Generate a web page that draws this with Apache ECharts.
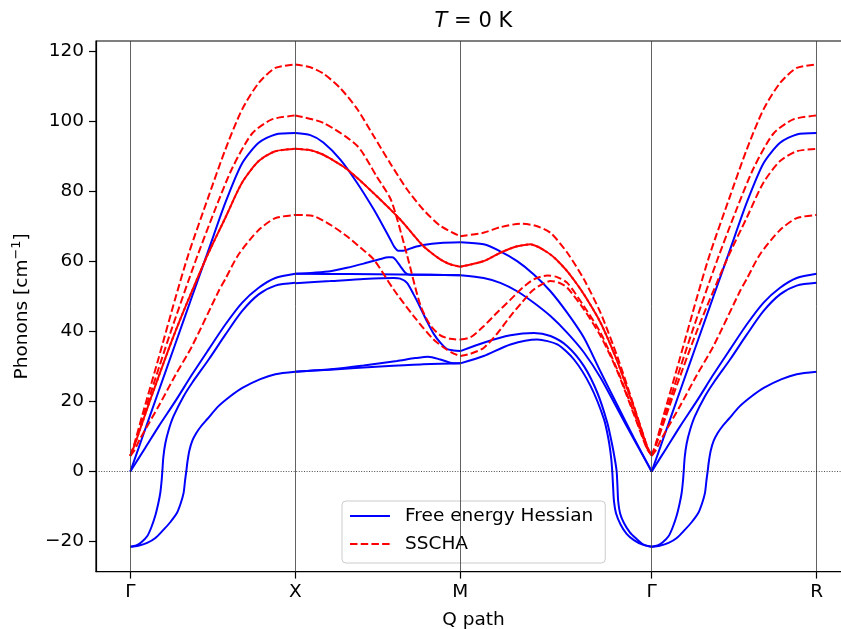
<!DOCTYPE html>
<html>
<head>
<meta charset="utf-8">
<title>Phonon dispersion</title>
<script src="https://cdn.jsdelivr.net/npm/echarts@6/dist/echarts.min.js"></script>
<style>
  html, body { margin: 0; padding: 0; background: #ffffff; }
  #chart { width: 841px; height: 629px; }
</style>
</head>
<body>
<div id="chart"></div>
<script>
// High-symmetry points along the Q path and their labels
const TICK_Q = [0, 1, 2, 3.16, 4.16];
const TICK_LABELS = ['Γ', 'X', 'M', 'Γ', 'R'];
const Y_TICKS = [-20, 0, 20, 40, 60, 80, 100, 120];

// Each segment array holds [fraction along segment, frequency in cm^-1]

// --- Free energy Hessian, Γ → X
const blueGX_1 = [[0,0],[.071,9.5],[.172,23],[.273,36.5],[.374,50],[.475,63.4],[.576,76.8],[.677,88],[.778,93.9],[.879,96.3],[1,96.7]];
const blueGX_2 = [[0,0],[.091,6.8],[.172,12.9],[.273,20.1],[.374,27.7],[.475,34.9],[.576,42],[.677,48.2],[.778,52.5],[.879,55.3],[1,56.5]];
const blueGX_4 = [[0,-21.5],[.036,-21.1],[.067,-20.2],[.102,-18.5],[.127,-16],[.152,-12.5],[.170,-9],[.182,-6],[.190,-2.5],[.194,0],[.200,4],[.212,8],[.232,11.8],[.262,15.8],[.323,21.5],[.374,25.3],[.475,32],[.576,39.1],[.677,45.8],[.778,50.6],[.879,53.1],[1,53.9]];
const blueGX_5 = [[0,-21.5],[.048,-21.2],[.102,-20.4],[.152,-19],[.202,-16.6],[.242,-14.5],[.283,-11.8],[.306,-9],[.323,-6.1],[.332,-2.5],[.339,0],[.347,3],[.358,6],[.376,8.8],[.400,11],[.430,13],[.467,15],[.533,18.6],[.606,21.5],[.679,23.9],[.788,26.4],[.879,27.8],[1,28.5]];

// --- Free energy Hessian, X → M
const blueXM_1 = [[0,96.7],[.091,96.1],[.170,94],[.273,89.1],[.374,82.5],[.475,74.9],[.545,69],[.576,66.3],[.600,64.2],[.624,63.1],[.655,63.1],[.715,64],[.776,64.7],[.879,65.3],[1,65.5]];
const blueXM_2 = [[0,56.5],[.111,56.8],[.212,57.2],[.313,58.2],[.414,59.4],[.515,60.7],[.564,61.2],[.588,61.2],[.606,60.6],[.636,58.7],[.667,56.8],[.697,56.2],[.818,56.2],[1,56.1]];
const blueXM_3 = [[0,56.5],[.333,56.4],[.636,56.3],[1,56.1]];
const blueXM_4 = [[0,53.8],[.212,54.4],[.414,55],[.596,55.3],[.636,55.1],[.677,53.9],[.717,50.6],[.758,46.8],[.798,42.9],[.838,39.4],[.879,36.8],[.919,35],[.960,34.6],[1,34.4]];
const blueXM_5 = [[0,28.5],[.212,29.2],[.414,30.3],[.616,31.6],[.727,32.4],[.806,32.8],[.879,32],[.939,31.1],[1,30.9]];
const blueXM_6 = [[0,28.5],[.212,29.1],[.515,30],[.758,30.6],[1,30.9]];

// --- Free energy Hessian, M → Γ
const blueMG_1 = [[0,65.5],[.122,64.9],[.209,62.9],[.297,60.1],[.384,56.3],[.471,51.5],[.559,45.3],[.646,38.2],[.733,28.5],[.820,19],[.907,9.6],[1,0]];
const blueMG_2 = [[0,56.1],[.122,55.3],[.209,53.9],[.297,51.5],[.384,48.2],[.471,44.4],[.559,39.6],[.646,34],[.733,26.8],[.820,18],[.907,9.2],[1,0]];
const blueMG_4 = [[0,34.4],[.122,36.8],[.262,38.9],[.384,39.6],[.471,38.7],[.559,35.8],[.646,30.1],[.716,22.5],[.768,13.9],[.794,7.5],[.809,3],[.817,0],[.821,-4],[.825,-8.5],[.835,-12],[.855,-14.7],[.885,-17.3],[.916,-19],[.958,-20.9],[1,-21.5]];
const blueMG_5 = [[0,30.9],[.122,33],[.262,36.3],[.402,37.7],[.507,36.3],[.594,32],[.681,24.4],[.751,14.9],[.775,9],[.788,4],[.794,0],[.798,-4],[.803,-8.5],[.814,-12],[.838,-15.2],[.869,-17.8],[.907,-19.6],[.953,-20.9],[1,-21.5]];

// --- Free energy Hessian, Γ → R
const blueGR_1 = [[0,0],[.071,9.5],[.172,23],[.273,36.5],[.374,50],[.475,63.4],[.576,76.8],[.677,88],[.778,93.9],[.879,96.3],[1,96.7]];
const blueGR_2 = [[0,0],[.091,6.8],[.172,12.9],[.273,20.1],[.374,27.7],[.475,34.9],[.576,42],[.677,48.2],[.778,52.5],[.879,55.3],[1,56.5]];
const blueGR_4 = [[0,-21.5],[.036,-21.1],[.067,-20.2],[.102,-18.5],[.127,-16],[.152,-12.5],[.170,-9],[.182,-6],[.190,-2.5],[.194,0],[.200,4],[.212,8],[.232,11.8],[.262,15.8],[.323,21.5],[.374,25.3],[.475,32],[.576,39.1],[.677,45.8],[.778,50.6],[.879,53.1],[1,53.9]];
const blueGR_5 = [[0,-21.5],[.048,-21.2],[.102,-20.4],[.152,-19],[.202,-16.6],[.242,-14.5],[.283,-11.8],[.306,-9],[.323,-6.1],[.332,-2.5],[.339,0],[.347,3],[.358,6],[.376,8.8],[.400,11],[.430,13],[.467,15],[.533,18.6],[.606,21.5],[.679,23.9],[.788,26.4],[.879,27.8],[1,28.5]];

// --- SSCHA, Γ → X
const redGX_1 = [[0,4.5],[.024,7.8],[.071,15.8],[.172,32.5],[.273,49.5],[.352,62],[.475,78.7],[.576,92],[.677,103.4],[.778,111],[.879,115.3],[1,116.3]];
const redGX_2 = [[0,4.5],[.024,7.5],[.121,22],[.242,39.5],[.394,60],[.515,75],[.616,86.5],[.737,96.5],[.858,100.6],[1,101.7]];
const redGX_3 = [[0,4.5],[.024,7.3],[.121,20.5],[.273,40],[.455,60.5],[.576,72.5],[.677,82.5],[.778,88.7],[.879,91.5],[1,92.2]];
const redGX_4 = [[0,4.5],[.024,6],[.061,9.5],[.172,18.7],[.273,27.5],[.374,35.8],[.535,51.5],[.576,55],[.656,62],[.778,69],[.879,72.4],[1,73.3]];

// --- SSCHA, X → M
const redXM_1 = [[0,116.3],[.091,115.5],[.170,113.7],[.273,109.5],[.376,103.5],[.473,96],[.576,88],[.679,80.5],[.776,74.8],[.879,70.2],[1,67.2]];
const redXM_2 = [[0,101.7],[.170,99.6],[.376,93],[.497,84],[.576,78],[.618,72],[.679,61.5],[.758,47.5],[.818,41.8],[.879,38.9],[.939,37.9],[1,37.7]];
const redXM_3 = [[0,92.2],[.091,91.8],[.170,90.5],[.315,86.3],[.473,79.6],[.636,72],[.776,64.4],[.879,60.6],[.939,59.2],[1,58.5]];
const redXM_4 = [[0,73.3],[.109,73],[.212,70.5],[.313,67.2],[.394,64],[.475,60.6],[.596,52],[.717,44.4],[.838,37.7],[.919,34.8],[.960,33.7],[1,33]];

// --- SSCHA, M → Γ
const redMG_1 = [[0,67.2],[.120,68.2],[.209,69.8],[.314,70.8],[.393,70.2],[.471,68.2],[.559,62.5],[.646,54.9],[.733,45.3],[.820,32.9],[.907,18.7],[.977,7],[.99,5.3],[1,4.7]];
const redMG_2 = [[0,37.7],[.052,38.3],[.122,41.5],[.194,45.5],[.262,49.1],[.325,52.5],[.384,54.9],[.454,56],[.503,55.6],[.559,53.9],[.646,47.2],[.733,39.6],[.820,29.1],[.907,16.8],[.977,6.5],[1,4.7]];
const redMG_3 = [[0,58.5],[.122,60.1],[.209,62.5],[.288,64.2],[.366,64.9],[.471,62],[.559,57.2],[.646,50.6],[.733,42.5],[.820,31.5],[.907,18.3],[.977,7],[1,4.7]];
const redMG_4 = [[0,33],[.052,33.6],[.122,35.3],[.194,39.5],[.262,44.4],[.325,48.5],[.384,52],[.471,54.4],[.513,54],[.559,52.5],[.646,46.3],[.733,38.7],[.820,28.7],[.907,16.3],[.977,6.3],[1,4.7]];

// --- SSCHA, Γ → R
const redGR_1 = [[0,4.5],[.024,7.8],[.071,15.8],[.172,32.5],[.273,49.5],[.352,62],[.475,78.7],[.576,92],[.677,103.4],[.778,111],[.879,115.3],[1,116.3]];
const redGR_2 = [[0,4.5],[.024,7.5],[.121,22],[.242,39.5],[.394,60],[.515,75],[.616,86.5],[.737,96.5],[.858,100.6],[1,101.7]];
const redGR_3 = [[0,4.5],[.024,7.3],[.121,20.5],[.273,40],[.455,60.5],[.576,72.5],[.677,82.5],[.778,88.7],[.879,91.5],[1,92.2]];
const redGR_4 = [[0,4.5],[.024,6],[.061,9.5],[.172,18.7],[.273,27.5],[.374,35.8],[.535,51.5],[.576,55],[.656,62],[.778,69],[.879,72.4],[1,73.3]];

// Branch pieces per segment: [segment index, data]
const bluePieces = [
  [0, blueGX_1], [0, blueGX_2], [0, blueGX_4], [0, blueGX_5],
  [1, blueXM_1], [1, blueXM_2], [1, blueXM_3], [1, blueXM_4], [1, blueXM_5], [1, blueXM_6],
  [2, blueMG_1], [2, blueMG_2], [2, blueMG_4], [2, blueMG_5],
  [3, blueGR_1], [3, blueGR_2], [3, blueGR_4], [3, blueGR_5]
];
const redPieces = [
  [0, redGX_1], [0, redGX_2], [0, redGX_3], [0, redGX_4],
  [1, redXM_1], [1, redXM_2], [1, redXM_3], [1, redXM_4],
  [2, redMG_1], [2, redMG_2], [2, redMG_3], [2, redMG_4],
  [3, redGR_1], [3, redGR_2], [3, redGR_3], [3, redGR_4]
];
// degenerate partners, drawn with shifted dashes so the pair reads as a solid line
const redPartnerPieces = [[0, redGX_3], [1, redXM_3], [2, redMG_3]];

const FONT = 'DejaVu Sans';
const BLUE = '#0000ff';
const RED = '#ff0000';
const DASH = [7.5, 3.2];
const X_MIN = -0.208, X_MAX = 4.368;
const Y_MIN = -28.6, Y_MAX = 123;

// Map segment fractions onto the cumulative path coordinate
function toPath(seg, pts) {
  const q0 = TICK_Q[seg], len = TICK_Q[seg + 1] - q0;
  return pts.map(p => [q0 + p[0] * len, p[1]]);
}

const minus = v => (v < 0 ? '\u2212' + Math.abs(v) : String(v));

const series = [];
bluePieces.forEach(([seg, pts]) => series.push({
  name: 'Free energy Hessian', type: 'line', data: toPath(seg, pts),
  symbol: 'none', showSymbol: false, smooth: 0.25, z: 2,
  lineStyle: { color: BLUE, width: 2 }, itemStyle: { color: BLUE }
}));
redPieces.forEach(([seg, pts]) => series.push({
  name: 'SSCHA', type: 'line', data: toPath(seg, pts),
  symbol: 'none', showSymbol: false, smooth: 0.25, z: 3,
  lineStyle: { color: RED, width: 2, type: DASH }, itemStyle: { color: RED }
}));
redPartnerPieces.forEach(([seg, pts]) => series.push({
  name: 'SSCHA', type: 'line', data: toPath(seg, pts),
  symbol: 'none', showSymbol: false, smooth: 0.25, z: 3,
  lineStyle: { color: RED, width: 2, type: DASH, dashOffset: 5.3 }, itemStyle: { color: RED }
}));
// reference lines: vertical lines at high-symmetry points and ω = 0
series.push({
  type: 'line', name: 'guides', data: [[0, 0]], symbol: 'none', silent: true, z: 1,
  lineStyle: { opacity: 0 },
  markLine: {
    silent: true, symbol: ['none', 'none'],
    label: { show: false },
    data: TICK_Q.map(q => ({ xAxis: q, lineStyle: { color: '#3a3a3a', width: 0.8, type: 'solid' } }))
      .concat([{ yAxis: 0, lineStyle: { color: '#000', width: 0.7, type: [1, 1.6] } }])
  }
});

const chart = echarts.init(document.getElementById('chart'), null, { renderer: 'canvas' });
chart.setOption({
  animation: false,
  backgroundColor: '#ffffff',
  grid: {
    left: 96, right: -10, top: 41, bottom: 57.4,
    show: true, borderColor: '#000', borderWidth: 1.2,
    containLabel: false, outerBoundsMode: 'none'
  },
  graphic: [{
    type: 'text', x: 473.4, y: 22, silent: true,
    style: {
      text: '{i|T} = 0 K', align: 'center', verticalAlign: 'middle',
      fontFamily: FONT, fontSize: 21, fill: '#000',
      rich: { i: { fontStyle: 'italic', fontFamily: FONT, fontSize: 21 } }
    }
  }],
  legend: {
    data: ['Free energy Hessian', 'SSCHA'],
    orient: 'vertical', left: 342, top: 501,
    itemWidth: 40, itemHeight: 14, itemGap: 6,
    padding: [4, 12, 8, 7],
    backgroundColor: 'rgba(255,255,255,0.8)',
    borderColor: '#cccccc', borderWidth: 1, borderRadius: 4,
    selectedMode: false,
    itemStyle: { opacity: 0 },
    textStyle: { fontFamily: FONT, fontSize: 18.5, color: '#000', lineHeight: 22, padding: [0, 0, 0, 10] }
  },
  xAxis: {
    type: 'value', min: X_MIN, max: X_MAX,
    name: 'Q path', nameLocation: 'middle', nameGap: 39,
    nameTextStyle: { fontFamily: FONT, fontSize: 18.5, color: '#000' },
    axisLine: { show: true, onZero: false, lineStyle: { color: '#000', width: 1.2 } },
    axisTick: { show: true, customValues: TICK_Q, length: 7, lineStyle: { color: '#000', width: 1.2 } },
    axisLabel: {
      customValues: TICK_Q, margin: 11,
      fontFamily: FONT, fontSize: 18.5, color: '#000',
      formatter: v => TICK_LABELS[TICK_Q.findIndex(q => Math.abs(q - v) < 1e-6)] || ''
    },
    splitLine: { show: false }
  },
  yAxis: {
    type: 'value', min: Y_MIN, max: Y_MAX,
    name: 'Phonons [cm{sup|\u22121}]', nameLocation: 'middle', nameGap: 62, nameRotate: 90,
    nameTextStyle: {
      fontFamily: FONT, fontSize: 18.5, color: '#000', lineHeight: 24,
      rich: { sup: { fontFamily: FONT, fontSize: 13, lineHeight: 13, verticalAlign: 'top' } }
    },
    axisLine: { show: true, onZero: false, lineStyle: { color: '#000', width: 1.2 } },
    axisTick: { show: true, customValues: Y_TICKS, length: 7, lineStyle: { color: '#000', width: 1.2 } },
    axisLabel: {
      customValues: Y_TICKS, margin: 12,
      fontFamily: FONT, fontSize: 18.5, color: '#000',
      formatter: minus
    },
    splitLine: { show: false }
  },
  series: series
});
</script>
</body>
</html>
